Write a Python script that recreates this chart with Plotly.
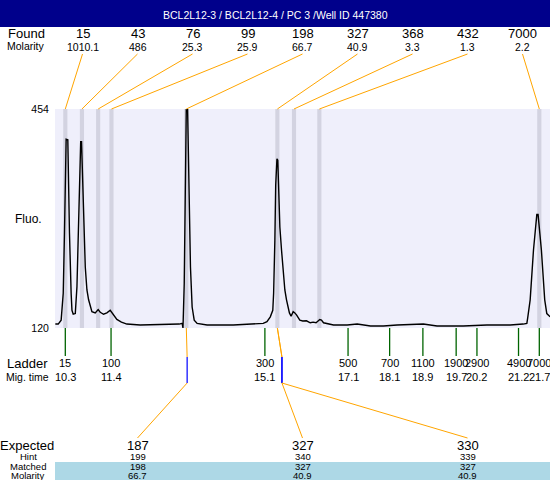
import plotly.graph_objects as go

# ---------------- data ----------------
title_text = "BCL2L12-3 / BCL2L12-4 / PC 3 /Well ID 447380"
found_sizes = ["15", "43", "76", "99", "198", "327", "368", "432", "7000"]
found_molarity = ["1010.1", "486", "25.3", "25.9", "66.7", "40.9", "3.3", "1.3", "2.2"]
found_times = [10.30, 10.70, 11.09, 11.41, 13.21, 15.40, 15.80, 16.41, 21.70]
ladder_sizes = ["15", "100", "300", "500", "700", "1100", "1900", "2900", "4900", "7000"]
ladder_times = [10.3, 11.4, 15.1, 17.1, 18.1, 18.9, 19.7, 20.2, 21.2, 21.7]
expected_sizes = ["187", "327", "330"]
hint_sizes = ["199", "340", "339"]
matched_sizes = ["198", "327", "327"]
matched_molarity = ["66.7", "40.9", "40.9"]
matched_found_idx = [4, 5, 5]
hint_times = [13.23, 15.51, 15.51]
y_ticks = [120, 454]

trace_time = [10.06, 10.13, 10.20, 10.25, 10.28, 10.30, 10.32, 10.36, 10.37, 10.40,
              10.44, 10.46, 10.49, 10.54, 10.58, 10.61, 10.64, 10.67, 10.69, 10.72,
              10.74, 10.78, 10.82, 10.86, 10.94, 11.02, 11.09, 11.14, 11.22, 11.30,
              11.38, 11.45, 11.54, 11.65, 11.78, 12.10, 12.58, 12.83, 13.04, 13.11,
              13.13, 13.16, 13.19, 13.21, 13.24, 13.27, 13.31, 13.35, 13.40, 13.47,
              13.71, 14.34, 14.82, 15.06, 15.15, 15.23, 15.29, 15.31, 15.34, 15.36,
              15.39, 15.41, 15.44, 15.46, 15.50, 15.54, 15.58, 15.62, 15.69, 15.73,
              15.78, 15.82, 15.86, 15.94, 16.01, 16.10, 16.19, 16.26, 16.33, 16.42,
              16.46, 16.51, 16.63, 16.75, 17.08, 17.32, 17.64, 17.95, 18.28, 18.91,
              19.24, 19.87, 20.44, 21.00, 21.31, 21.40, 21.42, 21.48, 21.56, 21.64,
              21.67, 21.75, 21.83, 21.88, 21.96]
trace_fluo = [126, 126, 132, 173, 265, 366, 408, 407, 366, 265,
              173, 147, 141, 142, 183, 264, 366, 404, 404, 341,
              264, 213, 178, 163, 145, 143, 148, 144, 141, 143,
              147, 140, 133, 129, 126, 124.5, 125, 125, 126, 127,
              120, 188, 366, 458, 458, 366, 213, 152, 132, 127,
              124.6, 124.6, 126, 127, 129.6, 137, 147, 173, 254, 338,
              378, 376, 315, 274, 239, 204, 178, 163, 143, 138,
              145, 143, 140, 132, 130.7, 131, 128, 129, 128, 133,
              132, 128, 126, 124.6, 124.6, 126, 123, 123, 124.6, 126,
              123, 123, 124.6, 124.6, 126, 127, 135, 163, 239, 293,
              293, 239, 163, 142, 137]

# ---------------- layout geometry ----------------
W, H = 550, 480
ML, MR, MT, MB = 55, 0, 109, 152
XR = [10.052, 21.957]
YR = [120, 454]
PW, PH = W - ML - MR, H - MT - MB

def pxx(px):
    return (px - ML) / PW

def pxy(py):
    return (H - MB - py) / PH

def t2p(t):
    return (t - XR[0]) / (XR[1] - XR[0])

FONT = "Liberation Sans, Arial, sans-serif"
ORANGE = "#FFA500"

fig = go.Figure()
fig.add_trace(go.Scatter(x=trace_time, y=trace_fluo, mode="lines",
                         line=dict(color="black", width=1.4), hoverinfo="skip",
                         showlegend=False))

shapes = []
annotations = []

# title bar
shapes.append(dict(type="rect", xref="paper", yref="paper", x0=pxx(0), x1=pxx(W),
                   y0=pxy(27), y1=pxy(0), fillcolor="#00008B", line=dict(width=0),
                   layer="below"))
annotations.append(dict(text=title_text, xref="paper", yref="paper", x=pxx(275),
                        y=pxy(14.5), showarrow=False, xanchor="center", yanchor="middle",
                        font=dict(color="white", size=10.5, family=FONT)))

# found peak bands
for t in found_times:
    shapes.append(dict(type="rect", xref="x", yref="paper", x0=t - 0.05, x1=t + 0.05,
                       y0=0, y1=1, fillcolor="#D3D3E1", line=dict(width=0), layer="below"))

# found labels and connectors
n = len(found_sizes)
annotations.append(dict(text="Found", xref="paper", yref="paper", x=pxx(6), y=pxy(34),
                        showarrow=False, xanchor="left", yanchor="middle",
                        font=dict(size=13, family=FONT, color="black")))
annotations.append(dict(text="Molarity", xref="paper", yref="paper", x=pxx(26), y=pxy(46),
                        showarrow=False, xanchor="center", yanchor="middle",
                        font=dict(size=10.5, family=FONT, color="black")))
for i in range(n):
    sx = (i + 0.5) / n
    annotations.append(dict(text=found_sizes[i], xref="paper", yref="paper", x=sx, y=pxy(34),
                            showarrow=False, xanchor="center", yanchor="middle",
                            font=dict(size=13, family=FONT, color="black")))
    annotations.append(dict(text=found_molarity[i], xref="paper", yref="paper", x=sx, y=pxy(46.5),
                            showarrow=False, xanchor="center", yanchor="middle",
                            font=dict(size=10.5, family=FONT, color="black")))
    shapes.append(dict(type="line", xref="paper", yref="paper", x0=sx, y0=pxy(54),
                       x1=t2p(found_times[i]), y1=1, line=dict(color=ORANGE, width=1)))

# ladder
for s, t in zip(ladder_sizes, ladder_times):
    shapes.append(dict(type="line", xref="x", yref="paper", x0=t, x1=t, y0=0, y1=pxy(356),
                       line=dict(color="#006400", width=1.3)))
    annotations.append(dict(text=s, xref="x", yref="paper", x=t, y=pxy(363),
                            showarrow=False, xanchor="center", yanchor="middle",
                            font=dict(size=11, family=FONT, color="black")))
annotations.append(dict(text="Ladder", xref="paper", yref="paper", x=pxx(27), y=pxy(363),
                        showarrow=False, xanchor="center", yanchor="middle",
                        font=dict(size=13, family=FONT, color="black")))
annotations.append(dict(text="Mig. time", xref="paper", yref="paper", x=pxx(27), y=pxy(377),
                        showarrow=False, xanchor="center", yanchor="middle",
                        font=dict(size=10.5, family=FONT, color="black")))
for t in ladder_times:
    annotations.append(dict(text=f"{t:.1f}", xref="x", yref="paper", x=t, y=pxy(377),
                            showarrow=False, xanchor="center", yanchor="middle",
                            font=dict(size=11, family=FONT, color="black")))

# expected / matched block
shapes.append(dict(type="rect", xref="paper", yref="paper", x0=0, x1=1,
                   y0=pxy(480), y1=pxy(462), fillcolor="#ADD8E6", line=dict(width=0),
                   layer="below"))
m = len(expected_sizes)
rows_y = (456.5, 466.5, 475.5)
for j in range(m):
    sx = (j + 0.5) / m
    tf = found_times[matched_found_idx[j]]
    th = hint_times[j]
    shapes.append(dict(type="line", xref="paper", yref="paper", x0=t2p(tf), y0=0,
                       x1=t2p(th), y1=pxy(357), line=dict(color=ORANGE, width=1)))
    shapes.append(dict(type="line", xref="paper", yref="paper", x0=t2p(th), y0=pxy(357),
                       x1=t2p(th), y1=pxy(383), line=dict(color="#0000FF", width=1.2)))
    shapes.append(dict(type="line", xref="paper", yref="paper", x0=t2p(th), y0=pxy(383),
                       x1=sx, y1=pxy(438), line=dict(color=ORANGE, width=1)))
    annotations.append(dict(text=expected_sizes[j], xref="paper", yref="paper", x=sx, y=pxy(445),
                            showarrow=False, xanchor="center", yanchor="middle",
                            font=dict(size=13, family=FONT, color="black")))
    for txt, yy in zip((hint_sizes[j], matched_sizes[j], matched_molarity[j]), rows_y):
        annotations.append(dict(text=txt, xref="paper", yref="paper", x=sx, y=pxy(yy),
                                showarrow=False, xanchor="center", yanchor="middle",
                                font=dict(size=9.5, family=FONT, color="black")))
annotations.append(dict(text="Expected", xref="paper", yref="paper", x=pxx(27), y=pxy(445),
                        showarrow=False, xanchor="center", yanchor="middle",
                        font=dict(size=13, family=FONT, color="black")))
for txt, yy in zip(("Hint", "Matched", "Molarity"), rows_y):
    annotations.append(dict(text=txt, xref="paper", yref="paper", x=pxx(28), y=pxy(yy),
                            showarrow=False, xanchor="center", yanchor="middle",
                            font=dict(size=9.5, family=FONT, color="black")))

annotations.append(dict(text="Fluo.", xref="paper", yref="paper", x=pxx(28), y=pxy(219),
                        showarrow=False, xanchor="center", yanchor="middle",
                        font=dict(size=12, family=FONT, color="black")))

fig.update_layout(
    width=W, height=H,
    margin=dict(l=ML, r=MR, t=MT, b=MB, pad=0),
    paper_bgcolor="white",
    plot_bgcolor="#EFEFFB",
    showlegend=False,
    shapes=shapes,
    annotations=annotations,
    xaxis=dict(range=XR, showgrid=False, zeroline=False, showticklabels=False,
               ticks="", showline=False, fixedrange=True),
    yaxis=dict(range=YR, tickvals=y_ticks, ticktext=[str(v) for v in y_ticks],
               showgrid=False, zeroline=False, ticks="outside", ticklen=3,
               tickcolor="rgba(0,0,0,0)", showline=False,
               tickfont=dict(size=10.5, family=FONT, color="black"), fixedrange=True),
)

fig.write_html("out.html", config={"displayModeBar": False},
               post_script="document.body.style.margin='0';document.body.style.overflow='hidden';")
